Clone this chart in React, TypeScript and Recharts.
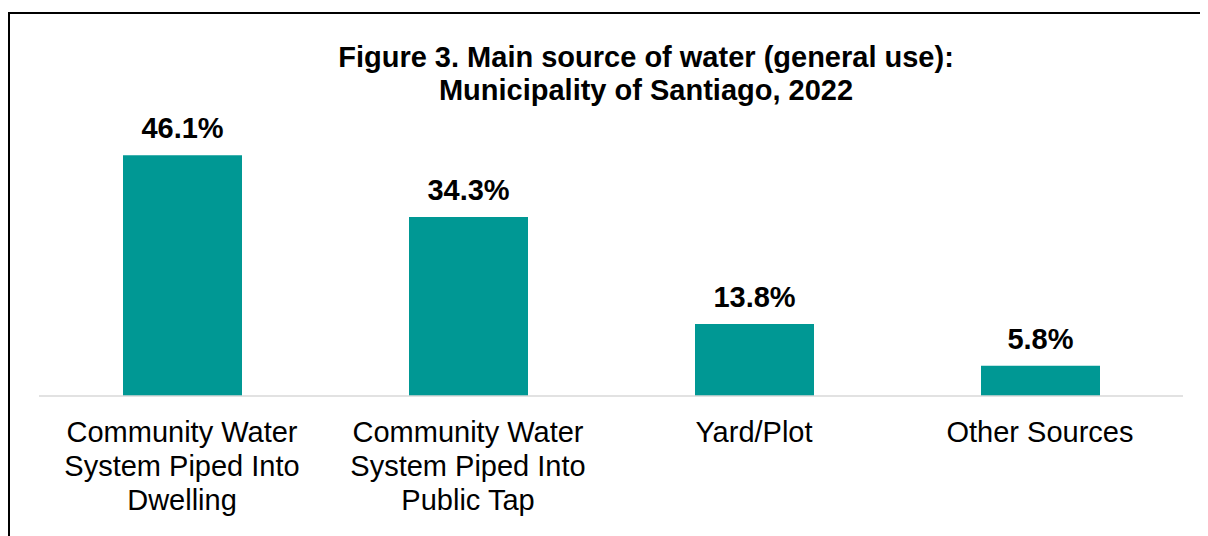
import { BarChart, Bar, XAxis, YAxis, LabelList } from "recharts";

const categories = [
  "Community Water System Piped Into Dwelling",
  "Community Water System Piped Into Public Tap",
  "Yard/Plot",
  "Other Sources",
];
const shares = [46.1, 34.3, 13.8, 5.8];

const data = categories.map((name, i) => ({ name, value: shares[i] }));

const FONT = '"Liberation Sans", Arial, sans-serif';
const TEAL = "#009894";

// greedy word wrap, about 17 characters per line
function wrap(label: string, max = 17) {
  const lines: string[] = [];
  let cur = "";
  label.split(" ").forEach((w) => {
    const next = cur ? cur + " " + w : w;
    if (next.length > max && cur) {
      lines.push(cur);
      cur = w;
    } else {
      cur = next;
    }
  });
  if (cur) lines.push(cur);
  return lines;
}

function CategoryTick(props: any) {
  const { x, y, payload } = props;
  const lines = wrap(String(payload.value));
  return (
    <text x={x} y={y + 46} textAnchor="middle" fontSize={29} fontFamily={FONT} fill="#000">
      {lines.map((l, i) => (
        <tspan key={i} x={x} dy={i === 0 ? 0 : 34}>
          {l}
        </tspan>
      ))}
    </text>
  );
}

export default function App() {
  return (
    <div style={{ position: "relative", width: 1200, height: 528, overflow: "hidden", background: "#fff" }}>
      <div
        style={{
          position: "absolute",
          left: 0,
          top: 4,
          width: 1300,
          height: 600,
          borderTop: "2px solid #000",
          borderLeft: "2px solid #000",
        }}
      />
      <div
        style={{
          position: "absolute",
          left: 138,
          top: 33,
          width: 1000,
          textAlign: "center",
          fontFamily: FONT,
          fontWeight: "bold",
          fontSize: 29,
          lineHeight: "33px",
          color: "#000",
        }}
      >
        <div>Figure 3. Main source of water (general use):</div>
        <div>Municipality of Santiago, 2022</div>
      </div>
      <div style={{ position: "absolute", left: 0, top: 0 }}>
        <BarChart
          width={1200}
          height={528}
          data={data}
          margin={{ top: 127, right: 25, bottom: 0, left: 31 }}
        >
          <XAxis
            dataKey="name"
            interval={0}
            height={140}
            tickLine={false}
            tickSize={0}
            tickMargin={0}
            axisLine={{ stroke: "#d9d9d9", strokeWidth: 1.5 }}
            tick={<CategoryTick />}
          />
          <YAxis hide domain={[0, 50]} />
          <Bar dataKey="value" fill={TEAL} barSize={119} isAnimationActive={false}>
            <LabelList
              dataKey="value"
              position="top"
              offset={17}
              formatter={(v: any) => `${Number(v).toFixed(1)}%`}
              fontSize={29}
              fontWeight="bold"
              fontFamily={FONT}
              fill="#000"
            />
          </Bar>
        </BarChart>
      </div>
    </div>
  );
}
